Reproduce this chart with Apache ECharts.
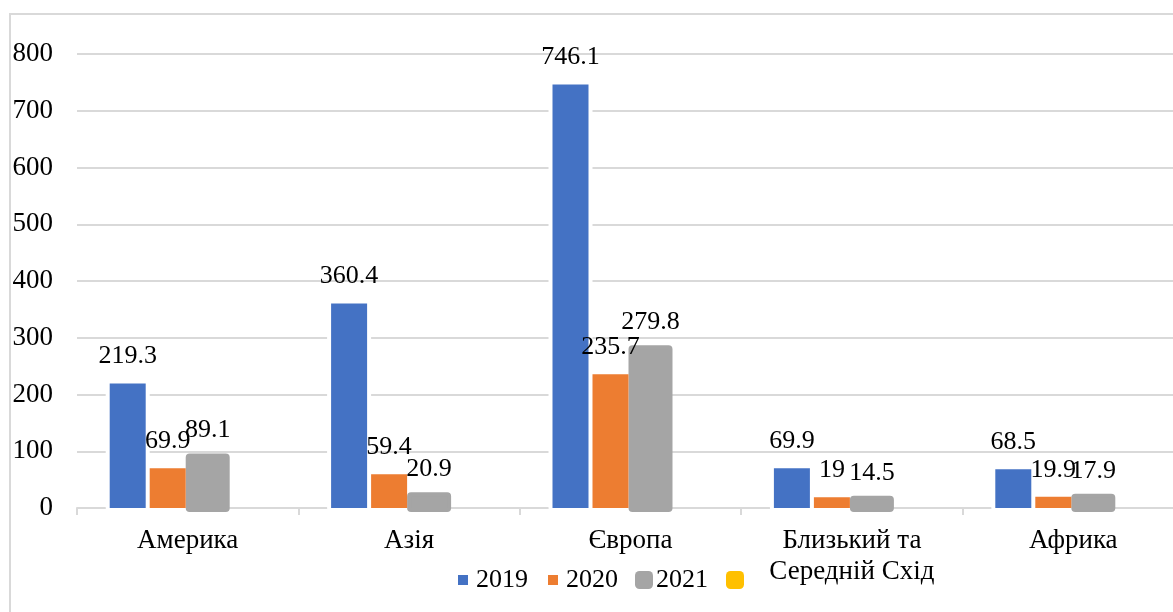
<!DOCTYPE html>
<html>
<head>
<meta charset="utf-8">
<script src="https://cdn.jsdelivr.net/npm/echarts@6/dist/echarts.min.js"></script>
<style>
  html, body { margin: 0; padding: 0; background: #fff; overflow: hidden; }
  #chart { width: 1195px; height: 612px; }
</style>
</head>
<body>
<div id="chart"></div>
<script>
// Regions and yearly values
const categories = ['Америка', 'Азія', 'Європа', 'Близький та\nСередній Схід', 'Африка'];
const years = ['2019', '2020', '2021'];
const values2019 = [219.3, 360.4, 746.1, 69.9, 68.5];
const values2020 = [69.9, 59.4, 235.7, 19, 19.9];
const values2021 = [89.1, 20.9, 279.8, 14.5, 17.9];
const valuesExtra = ['-', '-', '-', '-', '-'];
const yTicks = { min: 0, max: 800, step: 100 };

const FONT = "'Liberation Serif', 'Times New Roman', serif";
const colors = ['#4472C4', '#ED7D31', '#A5A5A5', '#FFC000'];

// Bar geometry: width of each bar, gap between neighbours, number of bar slots per category
const BAR_W = 36;
const BAR_GAP = 4;
const SLOTS = 4;
const OUTLINE = 8;

const labelStyle = {
  show: true,
  position: 'top',
  distance: 14,
  color: '#000',
  fontFamily: FONT,
  fontSize: 26
};

function barSeries(name, data, color) {
  return {
    name: name,
    type: 'bar',
    data: data,
    barWidth: BAR_W,
    barGap: (BAR_GAP / BAR_W * 100) + '%',
    itemStyle: { color: color },
    label: labelStyle,
    z: 3,
    emphasis: { disabled: true }
  };
}

// Halo drawn beneath a bar series: a stroked rectangle following the same value
function outlineSeries(data, slot, fill, stroke) {
  const offset = (slot - (SLOTS - 1) / 2) * (BAR_W + BAR_GAP);
  return {
    type: 'custom',
    data: data.map((v, i) => [i, v]),
    encode: { x: 0, y: 1 },
    z: 2,
    silent: true,
    renderItem: function (params, api) {
      const top = api.coord([api.value(0), api.value(1)]);
      const base = api.coord([api.value(0), 0]);
      return {
        type: 'rect',
        shape: { x: top[0] + offset - BAR_W / 2, y: top[1], width: BAR_W, height: base[1] - top[1] },
        style: { fill: fill, stroke: stroke, lineWidth: OUTLINE, lineJoin: 'round' }
      };
    }
  };
}

const chart = echarts.init(document.getElementById('chart'), null, { renderer: 'canvas' });

chart.setOption({
  animation: false,
  backgroundColor: '#fff',
  graphic: [{
    type: 'rect',
    shape: { x: 10, y: 14, width: 1220, height: 700 },
    style: { fill: 'none', stroke: '#d9d9d9', lineWidth: 2 },
    silent: true,
    z: -1
  }],
  grid: { left: 77, top: 54, width: 1107, height: 454, containLabel: false, outerBoundsMode: 'none' },
  legend: [
    {
      data: [years[0], years[1]],
      left: 458,
      top: 567,
      padding: 0,
      itemWidth: 10,
      itemHeight: 10,
      itemGap: 20,
      icon: 'rect',
      selectedMode: false,
      itemStyle: { borderWidth: 0 },
      textStyle: { fontFamily: FONT, fontSize: 26, color: '#000', padding: [0, 0, 0, 3] }
    },
    {
      data: [years[2], ' '],
      left: 635,
      top: 567,
      padding: 0,
      itemWidth: 18,
      itemHeight: 18,
      itemGap: 18,
      icon: 'roundRect',
      selectedMode: false,
      itemStyle: { borderWidth: 0 },
      textStyle: { fontFamily: FONT, fontSize: 26, color: '#000', padding: [0, 0, 0, -2] }
    }
  ],
  xAxis: {
    type: 'category',
    data: categories,
    axisLine: { lineStyle: { color: '#d9d9d9', width: 2 } },
    axisTick: { show: true, length: 7, lineStyle: { color: '#d9d9d9', width: 2 } },
    axisLabel: {
      color: '#000',
      fontFamily: FONT,
      fontSize: 27,
      lineHeight: 31,
      margin: 17,
      interval: 0
    }
  },
  yAxis: {
    type: 'value',
    min: yTicks.min,
    max: yTicks.max,
    interval: yTicks.step,
    axisLine: { show: false },
    axisTick: { show: false },
    splitLine: { lineStyle: { color: '#d9d9d9', width: 2 } },
    axisLabel: { color: '#000', fontFamily: FONT, fontSize: 27, margin: 24 }
  },
  series: [
    outlineSeries(values2019, 0, '#fff', '#fff'),
    outlineSeries(values2020, 1, '#fff', '#fff'),
    outlineSeries(values2021, 2, colors[2], colors[2]),
    barSeries(years[0], values2019, colors[0]),
    barSeries(years[1], values2020, colors[1]),
    barSeries(years[2], values2021, colors[2]),
    barSeries(' ', valuesExtra, colors[3])
  ]
});
</script>
</body>
</html>
